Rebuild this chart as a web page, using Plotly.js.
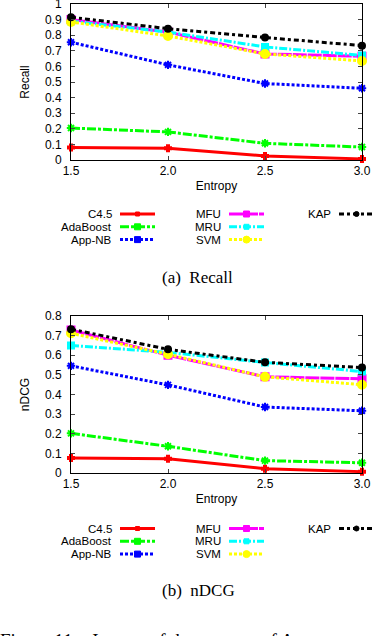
<!DOCTYPE html>
<html>
<head>
<meta charset="utf-8">
<script src="https://cdn.plot.ly/plotly-3.0.1.min.js"></script>
<style>
  html, body { margin: 0; padding: 0; background: #fff; }
  #grafico { width: 374px; height: 636px; }
</style>
</head>
<body>
<div id="grafico"></div>
<script>
// entropia (eje x)
let entropia = [1.5, 2.0, 2.5, 3.0];
let etiquetasX = ['1.5', '2.0', '2.5', '3.0'];

// marcas del eje y
let marcasRecall = [0, 0.1, 0.2, 0.3, 0.4, 0.5, 0.6, 0.7, 0.8, 0.9, 1];
let textoRecall = ['0', '0.1', '0.2', '0.3', '0.4', '0.5', '0.6', '0.7', '0.8', '0.9', '1'];
let marcasNdcg = [0, 0.1, 0.2, 0.3, 0.4, 0.5, 0.6, 0.7, 0.8];
let textoNdcg = ['0', '0.1', '0.2', '0.3', '0.4', '0.5', '0.6', '0.7', '0.8'];

let nombres = ['C4.5', 'AdaBoost', 'App-NB', 'MFU', 'MRU', 'SVM', 'KAP'];

// Recall
let recallC45 = [0.08, 0.075, 0.026, 0.007];
let recallAda = [0.205, 0.18, 0.107, 0.083];
let recallNB = [0.755, 0.61, 0.49, 0.46];
let recallMFU = [0.90, 0.82, 0.68, 0.665];
let recallMRU = [0.89, 0.82, 0.725, 0.67];
let recallSVM = [0.885, 0.795, 0.68, 0.635];
let recallKAP = [0.915, 0.842, 0.785, 0.733];

// nDCG
let ndcgC45 = [0.077, 0.073, 0.022, 0.007];
let ndcgAda = [0.202, 0.136, 0.063, 0.052];
let ndcgNB = [0.546, 0.449, 0.336, 0.317];
let ndcgMFU = [0.729, 0.60, 0.49, 0.48];
let ndcgMRU = [0.65, 0.615, 0.563, 0.517];
let ndcgSVM = [0.712, 0.605, 0.49, 0.45];
let ndcgKAP = [0.733, 0.63, 0.564, 0.537];

let colores = ['#ff0000', '#00ff00', '#0000ff', '#ff00ff', '#00ffff', '#ffff00', '#000000'];
let guiones = ['solid', '9px,2px,3px,2px', '3px,2px', '14px,1px', '8px,2px,2px,2px', '3px,2px', '5px,3px,3px,3px'];
let simbolos = ['cross', 'asterisk-open', 'asterisk-open', 'square', 'square', 'circle', 'circle'];
let tamanos = [5, 7, 7, 7, 6, 8, 6];

let recall = [recallC45, recallAda, recallNB, recallMFU, recallMRU, recallSVM, recallKAP];
let ndcg = [ndcgC45, ndcgAda, ndcgNB, ndcgMFU, ndcgMRU, ndcgSVM, ndcgKAP];

let trazas = [];
function agregar(series, ejeX, ejeY)
{
    for (let i = 0; i < series.length; i++)
    {
        trazas.push({
            x: entropia,
            y: series[i],
            xaxis: ejeX,
            yaxis: ejeY,
            name: nombres[i],
            type: 'scatter',
            mode: 'lines+markers',
            line: { color: colores[i], width: 3, dash: guiones[i] },
            marker: { symbol: simbolos[i], size: tamanos[i], color: colores[i],
                      line: { color: colores[i], width: 2 } },
            cliponaxis: false,
            showlegend: false
        });
    }
}
agregar(recall, 'x', 'y');
agregar(ndcg, 'x2', 'y2');

let W = 374, H = 636;
function px(v) { return v / W; }
function py(v) { return 1 - v / H; }

let fuente = { family: 'Liberation Sans, Arial, sans-serif', size: 12, color: '#000' };
let fuenteLey = { family: 'Liberation Sans, Arial, sans-serif', size: 11.5, color: '#000' };
let serif = { family: 'Liberation Serif, Times New Roman, serif', size: 17, color: '#000' };

function ejeX(dominio)
{
    return {
        domain: dominio,
        range: [1.5, 3.0],
        tickvals: entropia,
        ticktext: etiquetasX,
        ticks: 'inside',
        ticklen: 4,
        mirror: 'ticks',
        showline: true,
        linecolor: '#000',
        linewidth: 1,
        showgrid: false,
        zeroline: false,
        tickfont: fuente,
        ticklabeloverflow: 'allow',
        title: { text: 'Entropy', font: fuente, standoff: 4 }
    };
}
function ejeY(dominio, maximo, marcas, textos, titulo)
{
    return {
        domain: dominio,
        range: [0, maximo],
        tickvals: marcas,
        ticktext: textos,
        ticks: 'inside',
        ticklen: 4,
        mirror: 'ticks',
        showline: true,
        linecolor: '#000',
        linewidth: 1,
        showgrid: false,
        zeroline: false,
        tickfont: fuente,
        ticklabeloverflow: 'allow',
        ticklabelstandoff: 6,
        title: { text: titulo, font: fuente, standoff: 12 }
    };
}

// leyenda propia: texto a la izquierda, muestra a la derecha
let anotaciones = [];
let formas = [];
let columnasX = [112, 221, 331];
function leyenda(filaY)
{
    for (let i = 0; i < nombres.length; i++)
    {
        let col = Math.floor(i / 3);
        let fila = i % 3;
        let yy = filaY + fila * 12.8;
        let xt = columnasX[col];
        anotaciones.push({
            xref: 'paper', yref: 'paper', x: px(xt + 1), y: py(yy),
            xanchor: 'right', yanchor: 'middle', showarrow: false,
            text: nombres[i], font: fuenteLey, borderpad: 0
        });
        formas.push({
            type: 'line', xref: 'paper', yref: 'paper',
            x0: px(xt + 8), x1: px(xt + 43), y0: py(yy), y1: py(yy),
            line: { color: colores[i], width: 3, dash: guiones[i] }
        });
        let r = tamanos[i] / 2 - 0.5;
        let cx = xt + 25.5;
        formas.push({
            type: simbolos[i] === 'circle' ? 'circle' : 'rect',
            xref: 'paper', yref: 'paper',
            x0: px(cx - r), x1: px(cx + r), y0: py(yy - r), y1: py(yy + r),
            fillcolor: colores[i], line: { color: colores[i], width: 1 }
        });
    }
}
leyenda(214);
leyenda(528.5);

anotaciones.push({ xref: 'paper', yref: 'paper', x: px(197), y: py(277),
    xanchor: 'center', yanchor: 'middle', showarrow: false,
    text: '(a)  Recall', font: serif });
anotaciones.push({ xref: 'paper', yref: 'paper', x: px(198), y: py(590),
    xanchor: 'center', yanchor: 'middle', showarrow: false,
    text: '(b)  nDCG', font: serif });
anotaciones.push({ xref: 'paper', yref: 'paper', x: px(-2), y: py(628),
    xanchor: 'left', yanchor: 'top', showarrow: false,
    text: 'Figure 11:   Impact of the entropy of A', font: { family: serif.family, size: 19, color: '#000' } });

let layout =
{
    width: W,
    height: H,
    margin: { l: 0, r: 0, t: 0, b: 0 },
    paper_bgcolor: '#fff',
    plot_bgcolor: '#fff',
    showlegend: false,
    xaxis: Object.assign(ejeX([px(71), px(362)]), { anchor: 'y' }),
    yaxis: Object.assign(ejeY([py(160), py(4)], 1, marcasRecall, textoRecall, 'Recall'), { anchor: 'x' }),
    xaxis2: Object.assign(ejeX([px(71), px(362)]), { anchor: 'y2' }),
    yaxis2: Object.assign(ejeY([py(473), py(316)], 0.8, marcasNdcg, textoNdcg, 'nDCG'), { anchor: 'x2' }),
    annotations: anotaciones,
    shapes: formas
};

let contenedor = document.getElementById('grafico');
Plotly.newPlot(contenedor, trazas, layout, { displayModeBar: false, staticPlot: true });
</script>
</body>
</html>
